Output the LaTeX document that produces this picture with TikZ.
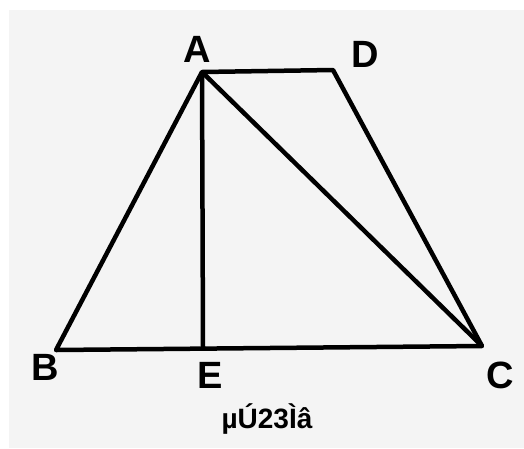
\documentclass[tikz,border=0pt]{standalone}
\usepackage{fontspec}
\setmainfont{Liberation Sans}
\usepackage{tikz}

\definecolor{paper}{RGB}{244,244,244}

\begin{document}
\begin{tikzpicture}[x=1pt,y=-1pt]

\useasboundingbox (0,0) rectangle (524,448);
\fill[white] (0,0) rectangle (524,448);
\fill[paper] (9,10) rectangle (524,448);

\coordinate (A) at (202,72);
\coordinate (D) at (333,70);
\coordinate (B) at (56,350);
\coordinate (E) at (203,347);
\coordinate (C) at (482,346);

\draw[line width=4.5pt, line join=round] (A) -- (D) -- (C) -- (B) -- cycle;
\draw[line width=4.5pt] (A) -- (C);
\draw[line width=4.5pt] (A) -- (E);

\node[font=\fontsize{38}{38}\selectfont\bfseries] (lA) at (197,49) {A};
\node[font=\fontsize{38}{38}\selectfont\bfseries] (lD) at (365,54) {D};
\node[font=\fontsize{38}{38}\selectfont\bfseries] (lB) at (45,367) {B};
\node[font=\fontsize{38}{38}\selectfont\bfseries] (lE) at (210,375) {E};
\node[font=\fontsize{38}{38}\selectfont\bfseries] (lC) at (500,375) {C};

\node[font=\fontsize{28}{28}\selectfont\bfseries] (cap) at (267,419) {µÚ23Ìâ};

\end{tikzpicture}
\end{document}
